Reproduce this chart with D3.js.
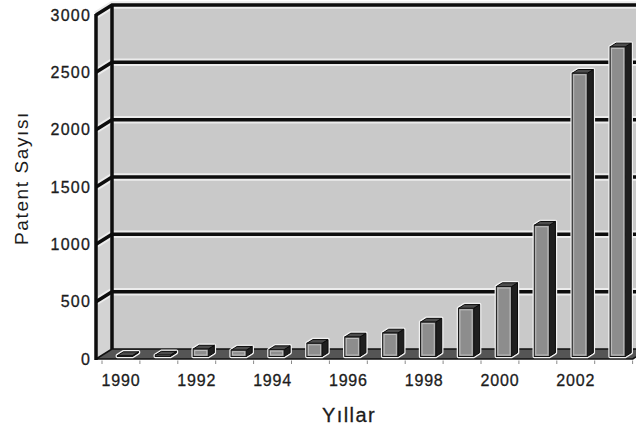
<!DOCTYPE html>
<html>
<head>
<meta charset="utf-8">
<script src="https://cdn.jsdelivr.net/npm/d3@7"></script>
<style>
  html, body { margin: 0; padding: 0; background: #fff; }
  svg { display: block; }
  text { font-family: "Liberation Sans", Arial, Helvetica, sans-serif; fill: #1c1c1c; }
</style>
</head>
<body>
<svg id="chart" width="636" height="429"></svg>
<script>
// Patent counts per year
const years = ["1990", "1991", "1992", "1993", "1994", "1995", "1996",
               "1997", "1998", "1999", "2000", "2001", "2002", "2003"];
const patents = [8, 12, 65, 55, 60, 115, 170, 205, 300, 420, 610, 1145, 2470, 2700];
const yTicks = [0, 500, 1000, 1500, 2000, 2500, 3000];
const yearLabels = ["1990", "1992", "1994", "1996", "1998", "2000", "2002"];

const svg = d3.select("#chart");

// 3D depth vector from the front plane to the back wall
const DX = 16, DY = -10;
// bar depth range as fractions of the full depth
const F0 = 0.25, F1 = 0.625;

const x = d3.scaleBand().domain(years)
  .range([102, 632.6]).paddingInner(0.6).paddingOuter(0.3);
const y = d3.scaleLinear().domain([0, 3000]).range([359, 15]);

const xLeft = 96;
const xRight = x.range()[1];
const yTop = y(3000), yBase = y(0);

// back wall
svg.append("rect")
  .attr("x", xLeft + DX).attr("y", yTop + DY)
  .attr("width", xRight - xLeft + 40).attr("height", yBase - yTop)
  .attr("fill", "#c9c9c9");

// left side wall
svg.append("polygon")
  .attr("points", [[xLeft, yBase], [xLeft, yTop], [xLeft + DX, yTop + DY], [xLeft + DX, yBase + DY]].join(" "))
  .attr("fill", "#d3d3d3");

// gridlines: diagonal across the side wall, then along the back wall
const gridPath = v => `M${xLeft},${y(v)}L${xLeft + DX},${y(v) + DY}L${xRight + DX + 20},${y(v) + DY}`;
const grid = svg.append("g");
grid.selectAll("path.halo").data(yTicks.filter(v => v > 0)).join("path")
  .attr("class", "halo").attr("d", gridPath)
  .attr("fill", "none").attr("stroke", "#ececec").attr("stroke-width", 7.5);
grid.selectAll("path.line").data(yTicks.filter(v => v > 0)).join("path")
  .attr("class", "line").attr("d", gridPath)
  .attr("fill", "none").attr("stroke", "#0d0d0d").attr("stroke-width", 3.5)
  .attr("stroke-linejoin", "miter");

// corner between side wall and back wall
svg.append("line")
  .attr("x1", xLeft + DX).attr("x2", xLeft + DX)
  .attr("y1", yTop + DY).attr("y2", yBase + DY)
  .attr("stroke", "#0d0d0d").attr("stroke-width", 3.5);

// floor
svg.append("polygon")
  .attr("points", [[xLeft, yBase], [xRight, yBase], [xRight + DX, yBase + DY], [xLeft + DX, yBase + DY]].join(" "))
  .attr("fill", "#555").attr("stroke", "#111").attr("stroke-width", 1.5)
  .attr("stroke-linejoin", "round");

// front vertical axis line
svg.append("line")
  .attr("x1", xLeft).attr("x2", xLeft)
  .attr("y1", yTop - 1).attr("y2", yBase + 1)
  .attr("stroke", "#0d0d0d").attr("stroke-width", 3.5);

// tick marks along the front floor edge, between categories
const boundaries = years.map(yr => x(yr) - x.step() * x.paddingInner() / 2).concat([xRight]);
svg.append("g").selectAll("line").data(boundaries).join("line")
  .attr("x1", d => d).attr("x2", d => d)
  .attr("y1", yBase + 1.5).attr("y2", yBase + 5)
  .attr("stroke", "#8a8a8a").attr("stroke-width", 1);

// 3D columns
const bw = x.bandwidth();
const ddx = DX * (F1 - F0), ddy = DY * (F1 - F0);
const bars = svg.append("g").selectAll("g").data(years.map((yr, i) => ({ yr, v: patents[i] }))).join("g");

bars.each(function (d) {
  const g = d3.select(this);
  const x0 = x(d.yr) + DX * F0;
  const base = y(0) + DY * F0;
  const top = y(d.v) + DY * F0;
  const outline = [[x0, base], [x0, top], [x0 + ddx, top + ddy], [x0 + bw + ddx, top + ddy],
                   [x0 + bw + ddx, base + ddy], [x0 + bw, base]];
  g.append("polygon").attr("points", outline.join(" "))
    .attr("fill", "none").attr("stroke", "#f2f2f2").attr("stroke-width", 3.5)
    .attr("stroke-linejoin", "round");
  // side face
  g.append("polygon")
    .attr("points", [[x0 + bw, top], [x0 + bw + ddx, top + ddy], [x0 + bw + ddx, base + ddy], [x0 + bw, base]].join(" "))
    .attr("fill", "#1f1f1f").attr("stroke", "#0a0a0a").attr("stroke-width", 1);
  // top face
  g.append("polygon")
    .attr("points", [[x0, top], [x0 + ddx, top + ddy], [x0 + bw + ddx, top + ddy], [x0 + bw, top]].join(" "))
    .attr("fill", "#4d4d4d").attr("stroke", "#0a0a0a").attr("stroke-width", 1);
  // front face
  g.append("rect")
    .attr("x", x0).attr("y", top).attr("width", bw).attr("height", Math.max(0, base - top))
    .attr("fill", "#8d8d8d").attr("stroke", "#151515").attr("stroke-width", 1);
  if (base - top > 3) {
    g.append("rect")
      .attr("x", x0 + 1.5).attr("y", top + 1.5).attr("width", bw - 3).attr("height", base - top - 3)
      .attr("fill", "none").attr("stroke", "#bdbdbd").attr("stroke-width", 1);
  }
});

// value axis labels on the front plane
const yAxis = svg.append("g").attr("transform", "translate(91,0)")
  .call(d3.axisLeft(y).tickValues(yTicks).tickFormat(d3.format("d")).tickSize(0).tickPadding(0));
yAxis.select(".domain").remove();
yAxis.selectAll("text")
  .style("font-family", "'Liberation Sans', Arial, sans-serif")
  .style("font-size", "16px").style("letter-spacing", "1.2px")
  .attr("fill", "#1c1c1c").attr("stroke", "#1c1c1c").attr("stroke-width", 0.3);

// year labels
const xAxis = svg.append("g").attr("transform", "translate(0,374.5)")
  .call(d3.axisBottom(x).tickValues(yearLabels).tickSize(0).tickPadding(0));
xAxis.select(".domain").remove();
xAxis.selectAll("text")
  .style("font-family", "'Liberation Sans', Arial, sans-serif")
  .style("font-size", "16px").style("letter-spacing", "0.8px")
  .attr("fill", "#1c1c1c").attr("stroke", "#1c1c1c").attr("stroke-width", 0.3);

// axis titles
svg.append("text")
  .attr("transform", "translate(28,178) rotate(-90)")
  .attr("text-anchor", "middle")
  .style("font-size", "19px").style("letter-spacing", "1.6px")
  .text("Patent Sayısı");

svg.append("text")
  .attr("x", 349).attr("y", 422)
  .attr("text-anchor", "middle")
  .attr("stroke", "#1c1c1c").attr("stroke-width", 0.3)
  .style("font-size", "20px").style("letter-spacing", "1.4px")
  .text("Yıllar");
</script>
</body>
</html>
